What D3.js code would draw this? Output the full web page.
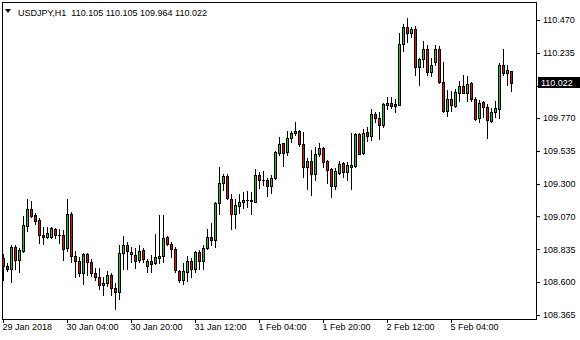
<!DOCTYPE html>
<html>
<head>
<meta charset="utf-8">
<script src="https://cdn.jsdelivr.net/npm/d3@7"></script>
<style>
  body { margin: 0; background: #fff; }
  svg { display: block; }
  text { font-family: "Liberation Sans", Arial, sans-serif; font-size: 9px; fill: #000; }
</style>
</head>
<body>
<div id="chart"></div>
<script>
// USDJPY H1, bars from 29 Jan 2018 12:00, one per hour
const opens = [108.770,108.714,108.691,108.850,108.755,108.820,109.002,109.119,109.078,109.043,
  108.936,108.924,108.924,108.976,108.936,108.936,108.841,109.088,108.786,108.750,
  108.667,108.800,108.743,108.662,108.636,108.577,108.591,108.648,108.555,108.527,
  108.805,108.862,108.815,108.793,108.757,108.827,108.712,108.750,108.733,108.774,
  108.784,108.919,108.871,108.834,108.679,108.613,108.674,108.750,108.691,108.817,
  108.752,108.841,108.922,108.900,109.162,109.305,109.357,109.191,109.083,109.145,
  109.173,109.186,109.186,109.173,109.362,109.326,109.326,109.283,109.340,109.523,
  109.590,109.530,109.626,109.661,109.678,109.583,109.423,109.466,109.369,109.512,
  109.554,109.464,109.405,109.288,109.380,109.447,109.388,109.423,109.428,109.654,
  109.519,109.673,109.644,109.799,109.773,109.719,109.866,109.878,109.871,109.866,
  110.297,110.418,110.379,110.406,110.137,110.194,110.263,110.101,110.172,110.263,
  110.030,109.823,109.906,109.858,109.951,109.999,109.951,110.018,109.906,109.769,
  109.885,109.847,109.749,109.811,109.837,110.149,110.090,110.105];
const highs = [108.800,108.733,108.862,108.862,108.841,109.071,109.191,109.177,109.090,109.055,
  108.995,108.991,108.995,108.985,108.976,108.971,109.193,109.098,108.822,108.781,
  108.810,108.805,108.767,108.702,108.698,108.638,108.679,108.667,108.596,108.864,
  108.929,108.888,108.852,108.841,108.864,108.841,108.764,108.793,108.943,109.078,
  109.078,108.929,108.888,108.852,108.686,108.733,108.786,108.770,108.824,108.829,
  108.864,108.976,109.019,109.169,109.423,109.371,109.371,109.228,109.191,109.228,
  109.243,109.248,109.246,109.405,109.388,109.393,109.340,109.364,109.535,109.633,
  109.594,109.680,109.680,109.740,109.685,109.673,109.483,109.542,109.562,109.590,
  109.562,109.471,109.416,109.416,109.466,109.459,109.455,109.661,109.666,109.666,
  109.690,109.704,109.833,109.811,109.811,109.876,109.918,109.923,109.904,110.379,
  110.439,110.482,110.422,110.427,110.201,110.322,110.292,110.197,110.292,110.284,
  110.168,109.970,109.963,109.976,110.037,110.078,110.073,110.030,109.918,109.899,
  109.892,109.868,109.840,109.894,110.161,110.263,110.149,110.105];
const lows = [108.615,108.681,108.603,108.691,108.674,108.815,108.966,109.066,109.017,108.881,
  108.871,108.917,108.917,108.917,108.876,108.757,108.822,108.745,108.638,108.645,
  108.586,108.652,108.645,108.615,108.548,108.507,108.572,108.507,108.406,108.477,
  108.695,108.691,108.745,108.698,108.745,108.745,108.674,108.674,108.726,108.733,
  108.745,108.864,108.781,108.674,108.603,108.584,108.610,108.638,108.674,108.691,
  108.691,108.834,108.864,108.848,109.086,109.257,109.191,108.976,108.984,109.093,
  109.126,109.138,109.083,109.170,109.269,109.293,109.214,109.233,109.337,109.507,
  109.430,109.507,109.602,109.649,109.571,109.352,109.264,109.221,109.328,109.502,
  109.419,109.309,109.209,109.262,109.369,109.352,109.328,109.264,109.423,109.512,
  109.514,109.609,109.614,109.740,109.619,109.709,109.833,109.840,109.816,109.862,
  110.251,110.311,110.347,110.078,110.006,110.137,110.078,110.073,110.149,110.023,
  109.816,109.785,109.821,109.851,109.894,109.947,109.894,109.894,109.756,109.744,
  109.780,109.628,109.740,109.780,109.769,110.078,110.006,109.964];
const closes = [108.714,108.691,108.850,108.755,108.827,109.007,109.119,109.073,109.038,108.933,
  108.924,108.950,108.983,108.933,108.934,108.834,109.083,108.784,108.748,108.667,
  108.800,108.743,108.662,108.634,108.577,108.594,108.648,108.555,108.527,108.805,
  108.862,108.820,108.800,108.752,108.822,108.764,108.750,108.726,108.777,108.784,
  108.912,108.869,108.834,108.684,108.613,108.679,108.750,108.691,108.817,108.752,
  108.841,108.919,108.900,109.162,109.307,109.357,109.198,109.083,109.148,109.169,
  109.186,109.187,109.177,109.362,109.326,109.325,109.283,109.340,109.528,109.585,
  109.523,109.626,109.666,109.678,109.583,109.419,109.464,109.369,109.514,109.554,
  109.459,109.400,109.288,109.393,109.442,109.388,109.435,109.433,109.654,109.514,
  109.666,109.644,109.799,109.769,109.719,109.871,109.878,109.858,109.858,110.299,
  110.418,110.379,110.404,110.137,110.190,110.263,110.101,110.149,110.263,110.030,
  109.823,109.906,109.863,109.954,109.999,109.951,110.013,109.904,109.766,109.880,
  109.847,109.754,109.811,109.840,110.149,110.090,110.113,110.022];

const priceTicks = [110.470, 110.235, 110.000, 109.770, 109.535, 109.300, 109.070, 108.835, 108.600, 108.365];
const timeLabels = ['29 Jan 2018', '30 Jan 04:00', '30 Jan 20:00', '31 Jan 12:00',
  '1 Feb 04:00', '1 Feb 20:00', '2 Feb 12:00', '5 Feb 04:00'];
const barsPerLabel = 16;
const symbol = 'USDJPY,H1';
const lastPrice = 110.022;

const width = 580, height = 340;
const plot = {left: 2, top: 2, right: 536, bottom: 319};

const bars = opens.map((o, i) => ({i, o, h: highs[i], l: lows[i], c: closes[i]}));

const svg = d3.select('#chart').append('svg')
  .attr('width', width).attr('height', height);

svg.append('rect').attr('width', width).attr('height', height).attr('fill', '#fff');

const x = d3.scaleLinear().domain([0, bars.length - 1]).range([3, 3 + 4 * (bars.length - 1)]);
const y = d3.scaleLinear().domain([108.365, 110.470]).range([315, 20]);

// candles
const g = svg.append('g').attr('shape-rendering', 'crispEdges');
const candle = g.selectAll('g.bar').data(bars).enter().append('g').attr('class', 'bar');

candle.append('rect')
  .attr('x', d => x(d.i)).attr('width', 1)
  .attr('y', d => Math.round(y(d.h)))
  .attr('height', d => Math.round(y(d.l)) - Math.round(y(d.h)) + 1)
  .attr('fill', '#000');

candle.append('rect')
  .attr('x', d => x(d.i) - 1).attr('width', 3)
  .attr('y', d => Math.round(y(Math.max(d.o, d.c))))
  .attr('height', d => Math.round(y(Math.min(d.o, d.c))) - Math.round(y(Math.max(d.o, d.c))) + 1)
  .attr('fill', '#000');

candle.filter(d => Math.round(y(Math.min(d.o, d.c))) - Math.round(y(Math.max(d.o, d.c))) >= 2)
  .append('rect')
  .attr('x', d => x(d.i)).attr('width', 1)
  .attr('y', d => Math.round(y(Math.max(d.o, d.c))) + 1)
  .attr('height', d => Math.round(y(Math.min(d.o, d.c))) - Math.round(y(Math.max(d.o, d.c))) - 1)
  .attr('fill', d => d.c >= d.o ? '#33b833' : '#e01010');

// frame
svg.append('rect')
  .attr('x', plot.left + 0.5).attr('y', plot.top + 0.5)
  .attr('width', plot.right - plot.left).attr('height', plot.bottom - plot.top)
  .attr('fill', 'none').attr('stroke', '#000');

// price axis
const yAxis = svg.append('g').attr('transform', `translate(${plot.right},0)`)
  .call(d3.axisRight(y).tickValues(priceTicks).tickFormat(d3.format('.3f')).tickSize(4).tickPadding(3));
yAxis.select('.domain').remove();
yAxis.attr('font-size', null).attr('font-family', null);
// the label sitting under the last-price box is hidden by it
yAxis.selectAll('.tick').filter(d => Math.abs(y(d) - y(lastPrice)) < 8).select('text').remove();

// time axis
const xAxis = svg.append('g').attr('transform', `translate(0,${plot.bottom})`)
  .call(d3.axisBottom(x)
    .tickValues(d3.range(0, bars.length, barsPerLabel))
    .tickFormat((d, i) => timeLabels[i])
    .tickSize(4).tickPadding(1));
xAxis.select('.domain').remove();
xAxis.attr('font-size', null).attr('font-family', null);
xAxis.selectAll('text').attr('text-anchor', 'start').attr('dx', -1);

// last price marker
const py = Math.round(y(lastPrice));
svg.append('rect').attr('x', 538).attr('y', py - 6).attr('width', 42).attr('height', 11).attr('fill', '#000');
svg.append('text').attr('x', 541).attr('y', py + 3).style('fill', '#fff').text(d3.format('.3f')(lastPrice));

// title
svg.append('path').attr('d', 'M5,9 L11,9 L8,13 Z').attr('fill', '#000');
const last = bars[bars.length - 1];
svg.append('text').attr('x', 18).attr('y', 15.5)
  .text(`${symbol}  ${[last.o, last.h, last.l, last.c].map(d3.format('.3f')).join(' ')}`)
  .attr('xml:space', 'preserve').style('white-space', 'pre');
</script>
</body>
</html>
